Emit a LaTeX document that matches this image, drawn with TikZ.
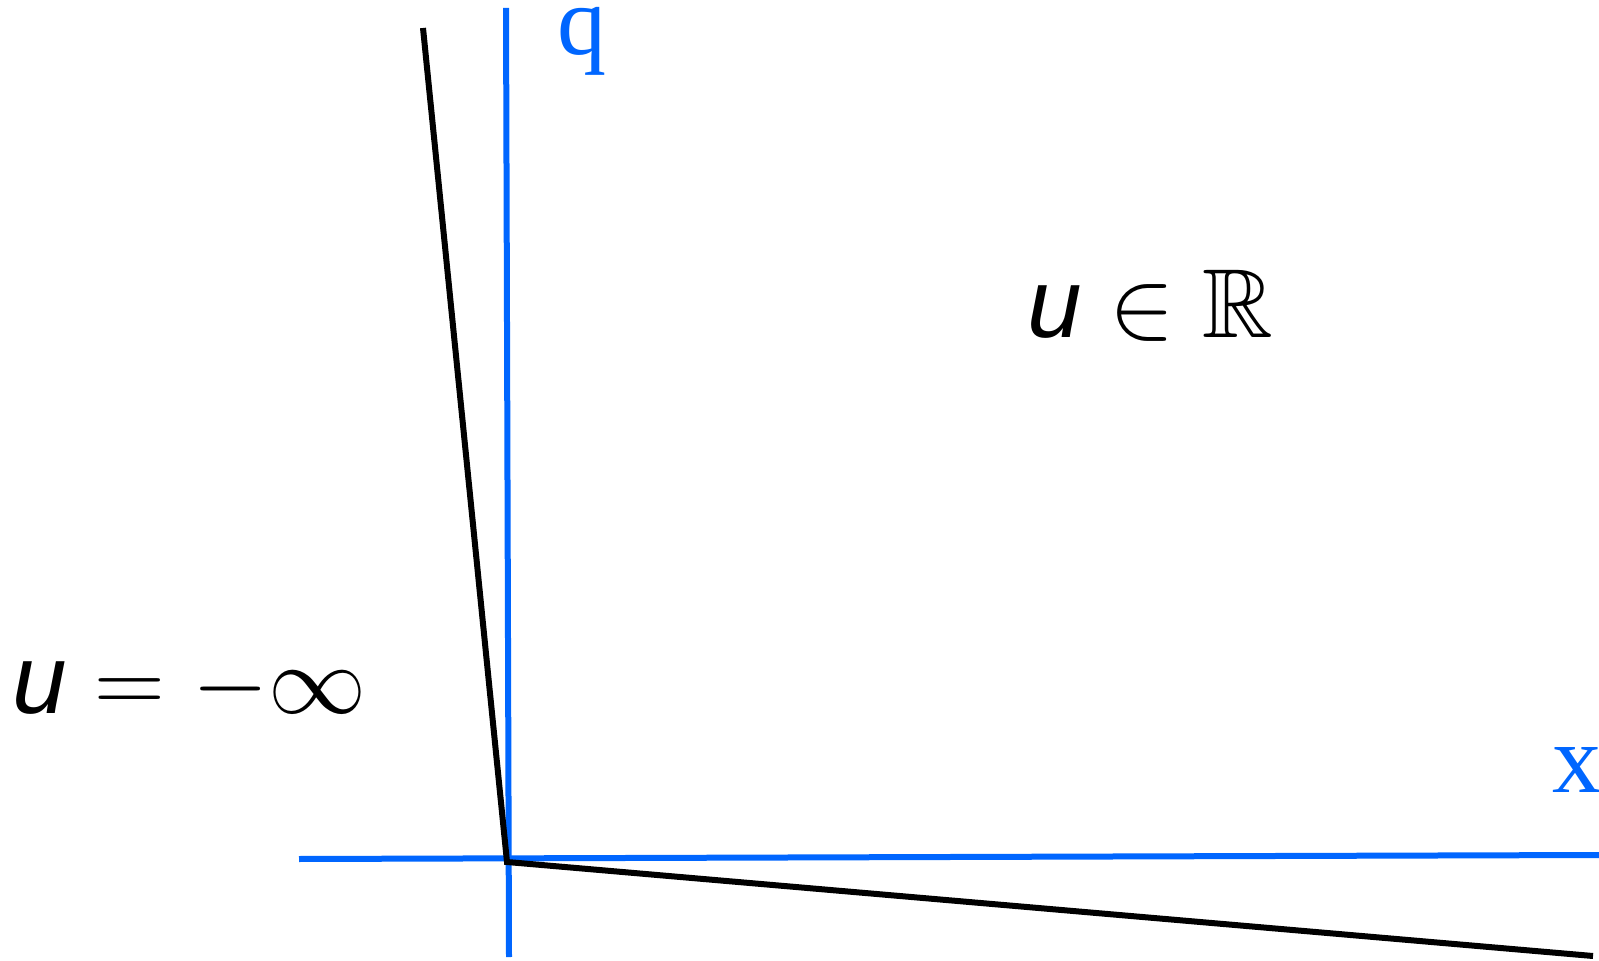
\documentclass[tikz,border=0pt]{standalone}
\usepackage{amssymb}
\usepackage{fontspec}
\newfontfamily\axisfont{Liberation Serif}
\newfontfamily\usfont{Liberation Sans}[ItalicFont={Liberation Sans Italic}]
\definecolor{axisblue}{RGB}{0,102,255}
\tikzset{
  axisline/.style={draw=axisblue, line width=3pt},
  curveline/.style={draw=black, line width=3pt},
  axislabel/.style={anchor=base west, inner sep=0pt, text=axisblue, font=\axisfont\fontsize{49}{50}\selectfont},
  mathlabel/.style={anchor=base west, inner sep=0pt, scale=1.97, font=\fontsize{24.88}{26}\selectfont},
}
\newcommand{\uvar}{\hbox{\usfont\itshape\fontsize{24.88}{26}\selectfont u}}
\begin{document}
\begin{tikzpicture}[x=0.5pt,y=-0.5pt]
\useasboundingbox (0,0) rectangle (1599,961);
% axes
\coordinate (hL) at (299,859);
\coordinate (hR) at (1599,855);
\coordinate (vT) at (506,8);
\coordinate (vB) at (509,957);
\draw[axisline] (hL) -- (hR);
\draw[axisline] (vT) -- (vB);
% black curve
\coordinate (cT) at (423,28);
\coordinate (cO) at (507,862);
\coordinate (cR) at (1593,956);
\draw[curveline] (cT) -- (cO) -- (cR);
% labels
\node[axislabel] (qlab) at (557,55) {q};
\node[axislabel] (xlab) at (1552,792) {x};
\node[mathlabel] (inR) at (1027,338) {$\uvar\in\mathbb{R}$};
\node[mathlabel] (minf) at (12,713) {$\uvar=-\infty$};
\end{tikzpicture}
\end{document}
